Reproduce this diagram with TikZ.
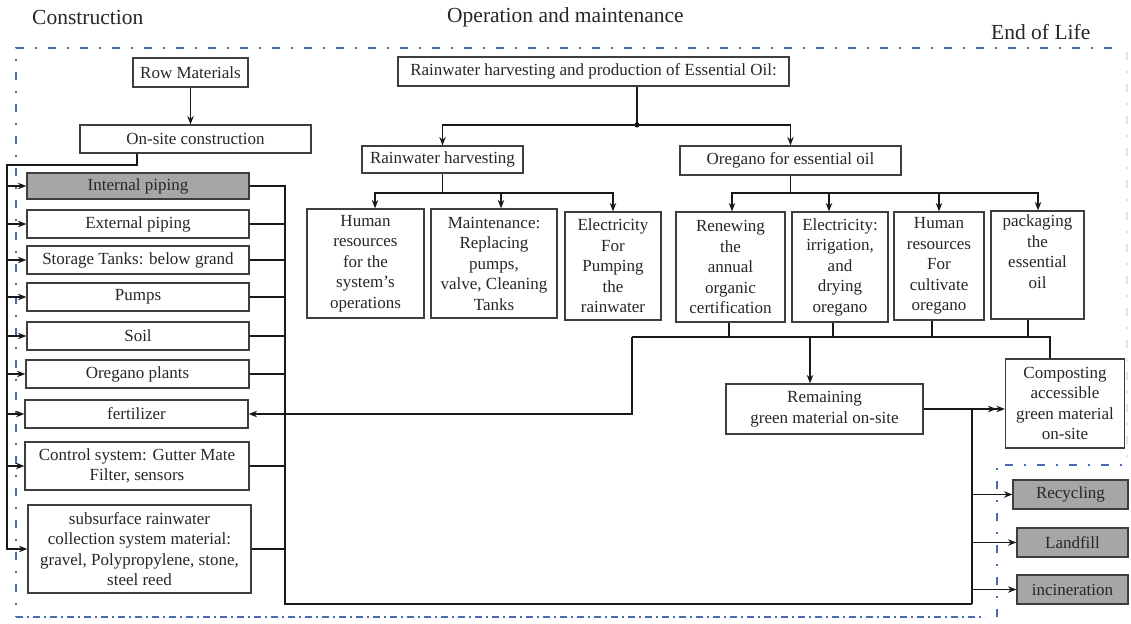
\documentclass[tikz,border=0pt]{standalone}
\usepackage{fontspec}
\setmainfont{Liberation Serif}
\usetikzlibrary{arrows.meta}

\definecolor{framblue}{RGB}{72,104,176}
\definecolor{boxline}{RGB}{62,62,62}
\definecolor{boxfill}{RGB}{166,166,166}
\definecolor{txt}{RGB}{38,38,38}

\begin{document}
\begin{tikzpicture}[x=1pt,y=-1pt,>={Stealth[length=8.5pt,width=6.5pt]},
    box/.style={draw=boxline,line width=1.2pt,align=center,inner sep=1pt,text=txt,
      font=\fontsize{17}{20.5}\selectfont},
    shaded/.style={box,fill=boxfill},
    sz/.style 2 args={minimum width=#1pt,minimum height=#2pt},
    title/.style={text=txt,font=\fontsize{21.5}{24}\selectfont,anchor=west,inner sep=0pt},
    link/.style={line width=1.3pt,draw=black!90},
    frame/.style={draw=framblue,line width=1.8pt,dash pattern=on 8pt off 11pt on 2pt off 11pt}]
    \useasboundingbox (0,0) rectangle (1131,623);

    % phases
    \node[title] (tcon) at (32,17) {Construction};
    \node[title] (tope) at (447,17) {Operation and maintenance};
    \node[title] (teol) at (991,32) {End of Life};
    \draw[frame] (1112,48) -- (16,48) -- (16,617);
    \draw[frame,dash pattern=on 7pt off 4pt on 2pt off 4pt] (16,617) -- (985,617);
    \draw[frame] (997,617) -- (997,465) -- (1131,465);
    \draw[frame,draw=framblue!18] (1127,52) -- (1127,458);

    % construction
    \node[box,sz={115}{29}] (raw) at (190.5,72.5) {Row Materials};
    \node[box,sz={231}{28}] (site) at (195.5,139) {On-site construction};
    \node[shaded,sz={222}{26}] (intpipe) at (138,186) {Internal piping};
    \node[box,sz={222}{28}] (extpipe) at (138,224) {External piping};
    \node[box,sz={222}{28}] (tanks) at (138,260) {Storage Tanks: below grand};
    \node[box,sz={222}{28}] (pumps) at (138,297) {Pumps};
    \node[box,sz={222}{28}] (soil) at (138,336) {Soil};
    \node[box,sz={223}{28}] (plants) at (137.5,374) {Oregano plants};
    \node[box,sz={223}{28}] (fert) at (136.5,414) {fertilizer};
    \node[box,sz={224}{48}] (control) at (137,466) {Control system: Gutter Mate\\Filter, sensors};
    \node[box,sz={223}{88}] (subsurf) at (139.5,549) {subsurface rainwater\\collection system material:\\gravel, Polypropylene, stone,\\steel reed};

    % operation and maintenance
    \node[box,sz={391}{29}] (main) at (593.5,71.5) {Rainwater harvesting and production of Essential Oil:};
    \node[box,sz={161}{27}] (rain) at (442.5,159.5) {Rainwater harvesting};
    \node[box,sz={221}{29}] (oreg) at (790.5,160.5) {Oregano for essential oil};
    \node[box,sz={117}{109}] (staff) at (365.5,263.5) {Human\\resources\\for the\\system's\\operations};
    \node[box,sz={126}{109}] (maint) at (494,263.5) {Maintenance:\\Replacing\\pumps,\\valve, Cleaning\\Tanks};
    \node[box,sz={96}{108}] (pumpel) at (613,266) {Electricity\\For\\Pumping\\the\\rainwater};
    \node[box,sz={109}{110}] (cert) at (730.5,267) {Renewing\\the\\annual\\organic\\certification};
    \node[box,sz={96}{110}] (irrig) at (840,267) {Electricity:\\irrigation,\\and\\drying\\oregano};
    \node[box,sz={90}{108}] (farm) at (939,266) {Human\\resources\\For\\cultivate\\oregano};
    \node[box,sz={93}{108}] (pack) at (1037.5,265) {packaging\\the\\essential\\oil\\\strut};
    \node[box,sz={197}{50}] (remain) at (824.5,409) {Remaining\\green material on-site};
    \node[box,sz={119}{89}] (compost) at (1065,403.5) {Composting\\accessible\\green material\\on-site};

    % end of life
    \node[shaded,sz={115}{29}] (recyc) at (1070.5,494.5) {Recycling};
    \node[shaded,sz={111}{29}] (landf) at (1072.5,542.5) {Landfill};
    \node[shaded,sz={111}{29}] (incin) at (1072.5,589.5) {incineration};

    % construction links
    \coordinate (feed) at (7,165);
    \coordinate (bus) at (285,604);
    \coordinate (eol) at (972,604);
    \draw[link,->] (raw) -- (raw |- site.north);
    \draw[link,->] ([xshift=-58.5pt]site.south) |- (feed) |- (subsurf);
    \foreach \n in {intpipe,extpipe,tanks,pumps,soil,plants,fert,control}
        \draw[link,->] (feed |- \n.west) -- (\n.west);
    \draw[link] (intpipe.east) -| (bus) -- (eol);
    \foreach \n in {extpipe,tanks,pumps,soil,plants,control,subsurf}
        \draw[link] (\n.east) -- (\n.east -| bus);

    % operation links
    \coordinate (split) at (637,125);
    \coordinate (rsplit) at (443,193);
    \coordinate (osplit) at (792,193);
    \draw[link] (main.south -| split) -- (split);
    \fill (split) circle (2.5pt);
    \draw[link,->] (split) -| (rain);
    \draw[link,->] (split) -| (oreg);
    \draw[link] (rain) -- (rain.south |- rsplit);
    \foreach \n/\s in {staff/9.5,maint/7,pumpel/0}
        \draw[link,->] (rain.south |- rsplit) -| ([xshift=\s pt]\n.north);
    \draw[link] (oreg) -- (oreg.south |- osplit);
    \foreach \n/\s in {cert/1.5,irrig/-11,farm/0,pack/0.5}
        \draw[link,->] (oreg.south |- osplit) -| ([xshift=\s pt]\n.north);

    % residues
    \coordinate (gather) at (632,337);
    \coordinate (gend) at (1050,337);
    \foreach \n/\s in {cert/-1.5,irrig/-7,farm/-7,pack/-9.5}
        \draw[link] ([xshift=\s pt]\n.south) -- ([xshift=\s pt]\n.south |- gather);
    \draw[link] (gather) -- (gend) -- (gend |- compost.north);
    \draw[link,->] (gather) |- (fert);
    \draw[link,->] ([xshift=-14.5pt]remain.north |- gather) -- ([xshift=-14.5pt]remain.north);
    \draw[link,-{Stealth[length=8.5pt,width=6.5pt] Stealth[length=8.5pt,width=6.5pt]}] (remain.east) -- (remain.east -| compost.west);
    \draw[link] (remain.east -| eol) -- (eol);
    \foreach \n in {recyc,landf,incin}
        \draw[link,->] (eol |- \n.west) -- (\n.west);
\end{tikzpicture}
\end{document}
